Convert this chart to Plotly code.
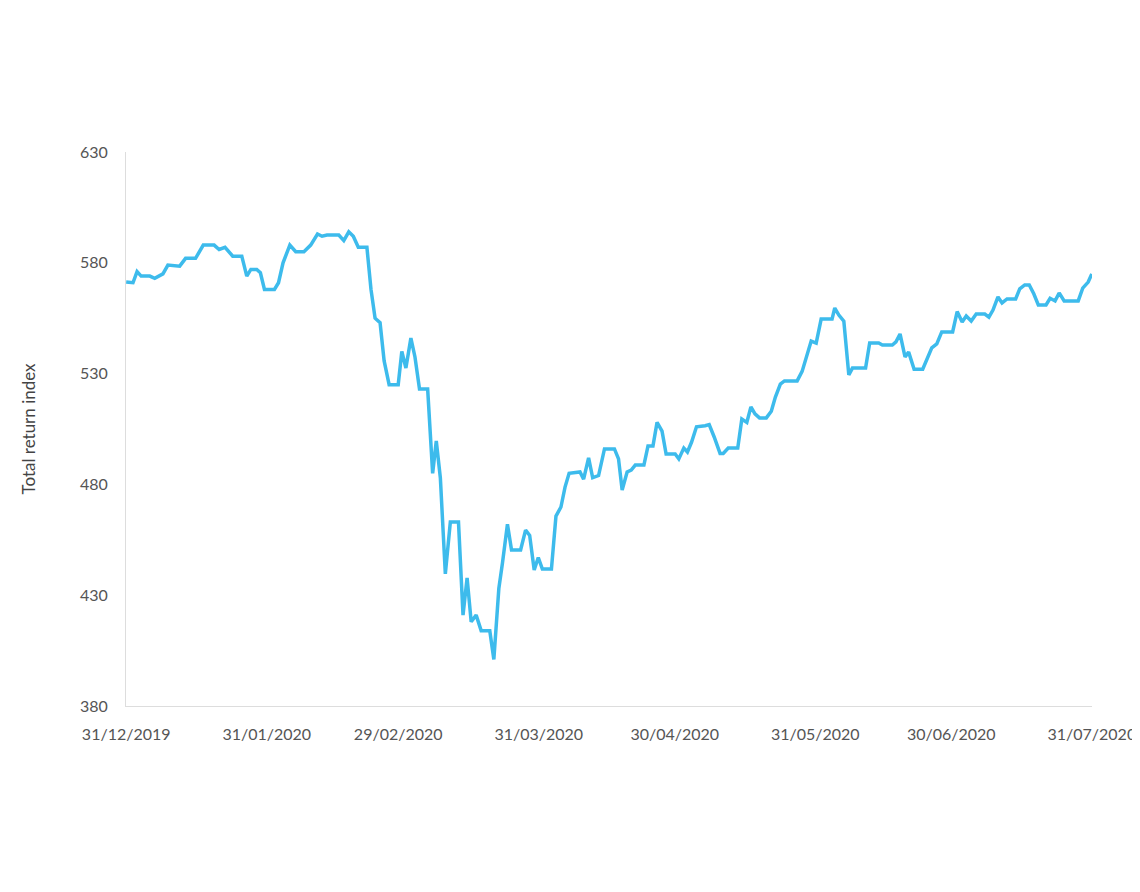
import plotly.graph_objects as go
import pandas as pd

# day offsets from 31/12/2019 and index values
days = [0,1.5,2.4,3.3,5.2,6.3,8.1,9.2,11.8,13.1,15.3,17.0,19.4,20.5,21.8,23.5,25.5,26.6,27.5,28.8,29.6,30.5,32.7,33.6,34.6,36.1,37.4,39.2,40.7,42.2,43.2,44.3,46.9,48.0,49.1,50.1,51.2,53.1,54.0,54.9,56.0,56.9,58.0,60.0,60.8,61.7,62.8,63.7,64.7,66.5,67.6,68.4,69.3,70.4,71.5,73.3,74.3,75.2,76.1,77.2,78.3,80.2,81.1,82.2,83.0,84.1,85.0,87.0,88.1,89.0,90.0,90.9,91.8,93.8,94.8,95.9,96.8,97.7,100.1,100.9,102.0,102.9,104.2,105.5,107.7,108.6,109.4,110.5,111.4,112.3,114.2,115.1,116.2,117.1,118.2,119.1,121.1,121.9,123.0,123.8,124.7,125.8,127.7,128.6,129.7,131.0,131.7,132.8,134.9,135.8,136.9,137.8,138.7,139.7,141.2,142.3,143.2,144.3,145.2,148.0,149.1,149.9,151.1,152.2,153.3,155.7,156.3,157.2,158.3,159.4,160.2,163.1,164.0,166.0,166.8,169.0,169.8,170.7,171.8,172.6,173.8,175.7,176.6,177.7,178.8,179.9,182.3,183.3,184.4,185.3,186.4,187.5,189.4,190.3,191.2,192.3,193.2,194.3,196.2,197.1,198.2,199.2,200.2,201.2,202.9,203.8,204.9,205.8,206.9,210.0,211.0,212.2,213.0]
values = [571.3,571,576,574,574,573,575,579,578.5,582,582,588,588,586,587,583,583,574,577,577,575.5,568,568,571,580,588,585,585,588,593,592,592.5,592.5,590,594,592,587,587,568,555,553,535.7,525,525,540,532.5,546,537.5,523,523,485,499.6,482.9,439.6,463,463,421,437.8,418,421,414,414,401,433,444.5,462,450.4,450.4,459.4,457,441.4,447,441.8,441.8,465.7,469.8,478.8,485,485.6,482.4,492,483,484,496,496,491.5,477.5,485.6,486.5,488.7,488.7,497.3,497.3,508,504,493.7,493.7,491.5,496.4,494.6,499,506,506.5,507,501.4,494,494,496.4,496.4,509.5,508,515,511.8,510,510,513,519.4,525.3,526.7,526.7,531,536.6,544.7,543.8,554.6,554.6,559.6,556.4,553.7,529.4,532.5,532.5,543.8,543.8,542.9,542.9,544.3,547.9,537.5,539.7,532,532,536,541.6,543.4,548.8,548.8,558,553.3,556,553.7,556.9,556.9,555.5,558.7,564.6,561.9,563.7,563.7,568.2,570,570,566,561,561,564,562.8,566.4,562.8,562.8,568.6,571.3,575]

tick_dates = ["2019-12-31","2020-01-31","2020-02-29","2020-03-31","2020-04-30","2020-05-31","2020-06-30","2020-07-31"]
tick_text = ["31/12/2019","31/01/2020","29/02/2020","31/03/2020","30/04/2020","31/05/2020","30/06/2020","31/07/2020"]
y_ticks = [380,430,480,530,580,630]

start = pd.Timestamp("2019-12-31")
dates = [start + pd.to_timedelta(d, unit="D") for d in days]

fig = go.Figure(go.Scatter(x=dates, y=values, mode="lines",
                           line=dict(color="#3dbbec", width=3.5)))
fig.update_layout(
    width=1140, height=892, template="plotly_white",
    paper_bgcolor="white", plot_bgcolor="white",
    margin=dict(l=118, r=45, t=144, b=194),
    font=dict(family="Lato", size=16, color="#555"),
    showlegend=False,
)
fig.update_xaxes(range=["2019-12-30 23:00", "2020-07-31 01:00"],
                 tickvals=tick_dates, ticktext=tick_text, showgrid=False,
                 showline=True, linecolor="#ddd", linewidth=1, ticks="", zeroline=False,
                 tickfont=dict(size=16, color="#555"), ticklabelstandoff=14)
fig.update_yaxes(range=[380,630], tickvals=y_ticks, showgrid=False,
                 showline=True, linecolor="#ddd", linewidth=1, ticks="", zeroline=False,
                 tickfont=dict(size=16, color="#555"), ticklabelstandoff=14,
                 title=dict(text="Total return index", font=dict(size=17, color="#444"), standoff=40))
fig.write_html("out.html")
